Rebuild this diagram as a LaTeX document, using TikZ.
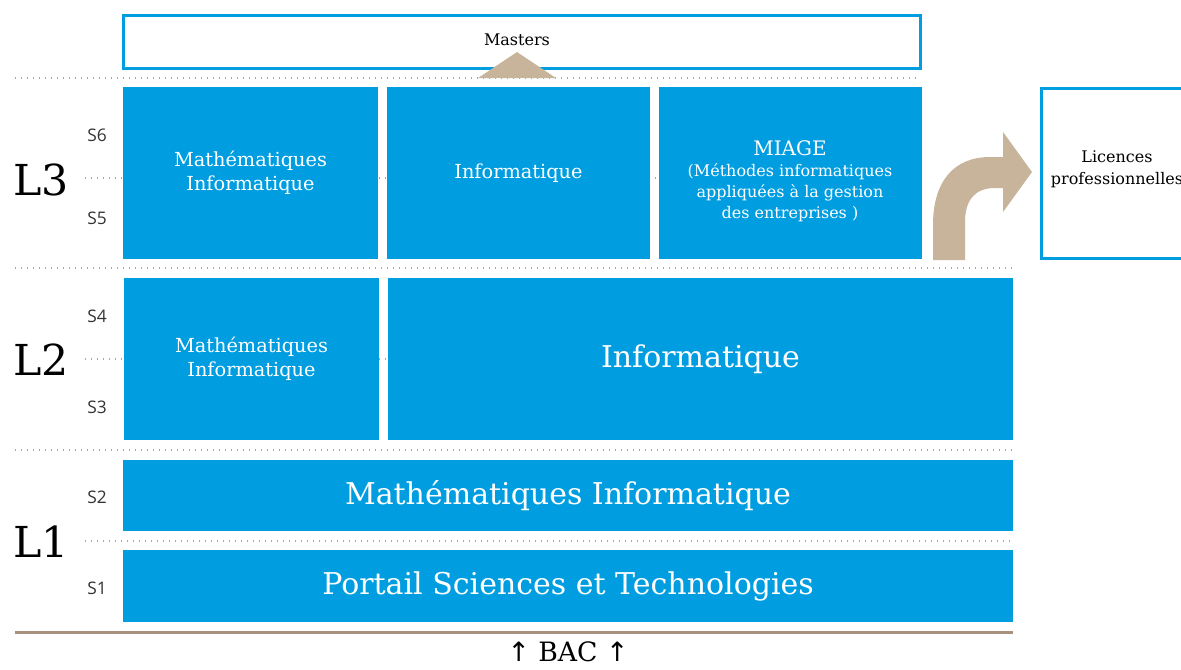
\documentclass[tikz,border=0pt]{standalone}
\usepackage{fontspec}
\setmainfont{DejaVu Serif}
\newfontfamily\semfont{Open Sans}
\newfontfamily\arrowfont{DejaVu Sans}
\usetikzlibrary{fit}
\definecolor{uniblue}{HTML}{009EE0}
\definecolor{unitan}{HTML}{C8B49A}
\definecolor{unidot}{HTML}{B5A595}
\definecolor{uniline}{HTML}{A8927E}
\tikzset{
  bluebox/.style={fill=uniblue, inner sep=0pt},
  openbox/.style={draw=uniblue, line width=2.25pt, inner sep=0pt},
  boxtext/.style={text=white, align=center},
  sep/.style={unidot, line width=0.9pt, dash pattern=on 0.9pt off 3.6pt},
  year/.style={font=\fontsize{32}{32}\selectfont},
  sem/.style={font=\semfont\fontsize{13}{13}\selectfont, text=black!80},
}
\begin{document}
\begin{tikzpicture}[x=0.75pt,y=-0.75pt]
    \useasboundingbox (0,0) rectangle (1181,669);
    \clip (0,0) rectangle (1181,669);
    \draw [sep] (15,78) -- (920,78);
    \draw [sep] (15,268) -- (1013,268);
    \draw [sep] (15,450) -- (1013,450);
    \draw [sep] (85,178) -- (922,178);
    \draw [sep] (85,359) -- (388,359);
    \draw [sep] (85,541) -- (1013,541);
    \draw [uniline, line width=2.25pt] (15,632) -- (1013,632);
    % L3
    \node [bluebox, fit={(123,87) (378,259)}] (mi3) {};
    \node [boxtext, font=\fontsize{14.5}{18}\selectfont] at (mi3) {Mathématiques\\Informatique};
    \node [bluebox, fit={(387,87) (650,259)}] (info3) {};
    \node [boxtext, font=\fontsize{14.5}{18}\selectfont] at (info3) {Informatique};
    \node [bluebox, fit={(659,87) (922,259)}] (miage) {};
    \node [boxtext, font=\fontsize{12}{15.75}\selectfont] (miagetext) at (790,181)
      {{\fontsize{15}{15}\selectfont MIAGE}\\(Méthodes informatiques\\appliquées à la gestion\\des entreprises )};
    % L2
    \node [bluebox, fit={(124,278) (379,440)}] (mi2) {};
    \node [boxtext, font=\fontsize{14.5}{18}\selectfont] at (mi2) {Mathématiques\\Informatique};
    \node [bluebox, fit={(388,278) (1013,440)}] (info2) {};
    \node [boxtext, font=\fontsize{22.5}{22.5}\selectfont] at (info2) {Informatique};
    % L1
    \node [bluebox, fit={(123,460) (1013,531)}] (mi1) {};
    \node [boxtext, font=\fontsize{22.5}{22.5}\selectfont] at (mi1) {Mathématiques Informatique};
    \node [bluebox, fit={(123,550) (1013,622)}] (portail) {};
    \node [boxtext, font=\fontsize{22.5}{22.5}\selectfont] at (portail) {Portail Sciences et Technologies};
    % sorties
    \node [openbox, fit={(123,15) (920,68)}] (masters) {};
    \node [font=\fontsize{12}{12}\selectfont] (masterstext) at (517,40) {Masters};
    \node [openbox, fit={(1041,88) (1193,258)}] (licpro) {};
    \node [align=center, font=\fontsize{12}{16.5}\selectfont] (licprotext) at (1117,169) {Licences\\professionnelles};
    \fill [unitan] (478,78) -- (517,52) -- (556,78) -- cycle;
    \fill [unitan] (933,260) -- (933,225) .. controls (933,180) and (955,157) .. (990,157)
      -- (1003,157) -- (1003,132) -- (1032,172) -- (1003,212) -- (1003,188) -- (995,188)
      .. controls (975,188) and (965,200) .. (965,222) -- (965,260) -- cycle;
    % annees
    \node [year] (l3) at (41,180) {L3};
    \node [year] (l2) at (41,360) {L2};
    \node [year] (l1) at (41,542) {L1};
    \node [sem] (s6) at (97,135) {S6};
    \node [sem] (s5) at (97,218) {S5};
    \node [sem] (s4) at (97,316) {S4};
    \node [sem] (s3) at (97,407) {S3};
    \node [sem] (s2) at (97,497) {S2};
    \node [sem] (s1) at (97,588) {S1};
    \node [font=\fontsize{20}{20}\selectfont] (bac) at (568,652) {{\arrowfont ↑} BAC {\arrowfont ↑}};
\end{tikzpicture}
\end{document}
